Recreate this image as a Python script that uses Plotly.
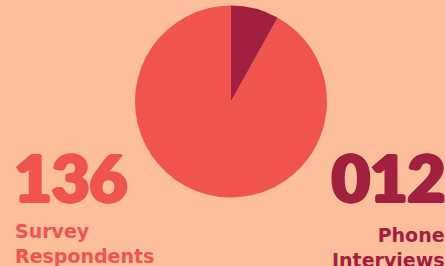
import plotly.graph_objects as go

labels = ["Phone Interviews", "Survey Respondents"]
values = [12, 136]
colors = ["#A2203F", "#F0544F"]
big_numbers = ["136", "012"]
captions = ["Survey<br>Respondents", "Phone<br>Interviews"]

W, H = 445, 266
BG = "#FDBE9B"

fig = go.Figure()
fig.add_trace(go.Pie(
    labels=labels, values=values, marker=dict(colors=colors, line=dict(width=0)),
    sort=False, direction="clockwise", rotation=0, textinfo="none", hoverinfo="label+value",
    showlegend=False,
    domain=dict(x=[135 / W, 327 / W], y=[1 - 198 / H, 1 - 5 / H]),
))

def px(x):
    return x / W

def py(y):
    return 1 - y / H

def heavy(c):
    return ", ".join("%dpx %dpx 0 %s" % (dx, dy, c) for dx, dy in
                     [(1, 0), (-1, 0), (0, 1), (0, -1), (1, 1), (-1, -1), (1, -1), (-1, 1), (2, 0), (-2, 0)])

fig.add_annotation(x=px(12), y=py(218), xref="paper", yref="paper", xanchor="left", yanchor="bottom",
                   text=big_numbers[0], showarrow=False,
                   font=dict(family="Lato Black, Lato", size=65, color=colors[1], weight=900,
                             shadow=heavy(colors[1])))
fig.add_annotation(x=px(447), y=py(218), xref="paper", yref="paper", xanchor="right", yanchor="bottom",
                   text=big_numbers[1], showarrow=False,
                   font=dict(family="Lato Black, Lato", size=65, color=colors[0], weight=900,
                             shadow=heavy(colors[0])))
fig.add_annotation(x=px(13), y=py(218), xref="paper", yref="paper", xanchor="left", yanchor="top",
                   text=captions[0], showarrow=False, align="left",
                   font=dict(family="DejaVu Sans", size=19, color=colors[1], weight=700))
fig.add_annotation(x=px(447), y=py(222), xref="paper", yref="paper", xanchor="right", yanchor="top",
                   text=captions[1], showarrow=False, align="right",
                   font=dict(family="DejaVu Sans", size=19, color=colors[0], weight=700))

fig.update_layout(width=W, height=H, margin=dict(l=0, r=0, t=0, b=0),
                  paper_bgcolor=BG, plot_bgcolor=BG)
fig.write_html("out.html", config={"displayModeBar": False},
               post_script="document.body.style.margin='0';document.body.style.background='%s';" % BG)
